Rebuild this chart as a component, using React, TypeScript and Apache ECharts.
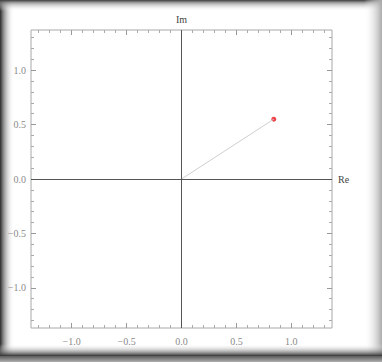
import React, { useEffect, useRef } from "react";
import * as echarts from "echarts";

const axisMin = -1.37;
const axisMax = 1.37;
const majorTicks = [-1.0, -0.5, 0.0, 0.5, 1.0];
const minorTicks = [
  -1.3, -1.2, -1.1, -0.9, -0.8, -0.7, -0.6, -0.4, -0.3, -0.2, -0.1,
  0.1, 0.2, 0.3, 0.4, 0.6, 0.7, 0.8, 0.9, 1.1, 1.2, 1.3,
];
const vectorRe = [0, 0.84];
const vectorIm = [0, 0.55];
const pointRe = 0.84;
const pointIm = 0.55;
const reName = "Re";
const imName = "Im";

const labelStyle = {
  color: "#8a8a8a",
  fontFamily: "Liberation Serif",
  fontSize: 10,
};

function makeAxes(kind: "x" | "y") {
  const isX = kind === "x";
  const pos1 = isX ? "bottom" : "left";
  const pos2 = isX ? "top" : "right";
  const base = {
    type: "value",
    min: axisMin,
    max: axisMax,
    splitLine: { show: false },
    axisLine: { show: false, onZero: false },
  };
  return [
    {
      ...base,
      position: pos1,
      axisTick: {
        show: true,
        inside: true,
        length: 5,
        customValues: majorTicks,
        lineStyle: { color: "#999" },
      },
      axisLabel: {
        show: true,
        customValues: majorTicks,
        formatter: (v: number) => v.toFixed(1).replace("-", "\u2212"),
        margin: isX ? 8 : 5,
        ...labelStyle,
      },
    },
    {
      ...base,
      position: pos1,
      axisTick: {
        show: true,
        inside: true,
        length: 3,
        customValues: minorTicks,
        lineStyle: { color: "#aaa" },
      },
      axisLabel: { show: false, customValues: minorTicks },
    },
    {
      ...base,
      position: pos2,
      axisTick: {
        show: true,
        inside: true,
        length: 5,
        customValues: majorTicks,
        lineStyle: { color: "#999" },
      },
      axisLabel: { show: false, customValues: majorTicks },
    },
    {
      ...base,
      position: pos2,
      axisTick: {
        show: true,
        inside: true,
        length: 3,
        customValues: minorTicks,
        lineStyle: { color: "#aaa" },
      },
      axisLabel: { show: false, customValues: minorTicks },
    },
  ];
}

export default function App() {
  const ref = useRef<HTMLDivElement>(null);
  useEffect(() => {
    if (!ref.current) return;
    const chart = echarts.init(ref.current, null, { renderer: "svg" });
    const W = 382;
    const H = 362;
    chart.setOption({
      animation: false,
      backgroundColor: "#ffffff",
      grid: {
        left: 31,
        right: 50,
        top: 30,
        bottom: 34,
        show: true,
        borderColor: "#a8a8a8",
        borderWidth: 1,
        backgroundColor: "transparent",
      },
      xAxis: makeAxes("x"),
      yAxis: makeAxes("y"),
      graphic: [
        {
          type: "rect",
          silent: true,
          shape: { x: 0, y: 0, width: 14, height: H },
          style: {
            fill: new echarts.graphic.LinearGradient(0, 0, 1, 0, [
              { offset: 0, color: "rgba(40,40,40,1)" },
              { offset: 0.25, color: "rgba(110,110,110,0.8)" },
              { offset: 1, color: "rgba(255,255,255,0)" },
            ]),
          },
        },
        {
          type: "rect",
          silent: true,
          shape: { x: 0, y: 0, width: W, height: 11 },
          style: {
            fill: new echarts.graphic.LinearGradient(0, 0, 0, 1, [
              { offset: 0, color: "rgba(60,60,60,1)" },
              { offset: 0.3, color: "rgba(140,140,140,0.7)" },
              { offset: 1, color: "rgba(255,255,255,0)" },
            ]),
          },
        },
        {
          type: "rect",
          silent: true,
          shape: { x: W - 18, y: 0, width: 18, height: H },
          style: {
            fill: new echarts.graphic.LinearGradient(0, 0, 1, 0, [
              { offset: 0, color: "rgba(255,255,255,0)" },
              { offset: 1, color: "rgba(170,170,170,1)" },
            ]),
          },
        },
        {
          type: "rect",
          silent: true,
          shape: { x: 0, y: H - 18, width: W, height: 12 },
          style: {
            fill: new echarts.graphic.LinearGradient(0, 0, 0, 1, [
              { offset: 0, color: "rgba(255,255,255,0)" },
              { offset: 1, color: "rgba(50,50,50,1)" },
            ]),
          },
        },
        {
          type: "rect",
          silent: true,
          shape: { x: 0, y: H - 6, width: W, height: 6 },
          style: {
            fill: new echarts.graphic.LinearGradient(0, 0, 0, 1, [
              { offset: 0, color: "rgba(90,90,90,1)" },
              { offset: 1, color: "rgba(175,175,175,1)" },
            ]),
          },
        },
      ],
      series: [
        {
          type: "line",
          xAxisIndex: 0,
          yAxisIndex: 0,
          data: vectorRe.map((r, i) => [r, vectorIm[i]]),
          symbol: "none",
          lineStyle: { color: "#cfcfcf", width: 1 },
          markLine: {
            silent: true,
            symbol: "none",
            animation: false,
            lineStyle: { color: "#555", width: 1, type: "solid" },
            data: [
              {
                xAxis: 0,
                label: {
                  show: true,
                  position: "end",
                  formatter: imName,
                  color: "#444",
                  fontFamily: "Liberation Serif",
                  fontSize: 10,
                  distance: 6,
                },
              },
              {
                yAxis: 0,
                label: {
                  show: true,
                  position: "end",
                  formatter: reName,
                  color: "#444",
                  fontFamily: "Liberation Serif",
                  fontSize: 10,
                  distance: 6,
                },
              },
            ],
          },
        },
        {
          type: "scatter",
          xAxisIndex: 0,
          yAxisIndex: 0,
          data: [[pointRe, pointIm]],
          symbol: "circle",
          symbolSize: 5,
          itemStyle: { color: "#e8141c" },
        },
      ],
    });
    return () => chart.dispose();
  }, []);
  return (
    <div
      ref={ref}
      style={{ position: "absolute", left: 0, top: 0, width: 382, height: 362 }}
    />
  );
}
